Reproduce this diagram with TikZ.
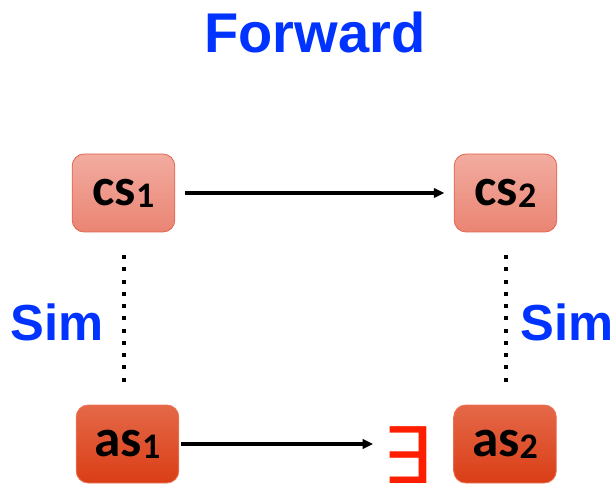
\documentclass[tikz,border=0pt]{standalone}
\usepackage{fontspec}
\setmainfont{Liberation Sans}
\newfontfamily\statefont{Carlito}
\newfontfamily\symfont{DejaVu Sans}
\usetikzlibrary{arrows.meta}

\definecolor{simblue}{RGB}{0,51,255}
\definecolor{exred}{RGB}{255,30,0}
\definecolor{cstop}{RGB}{242,172,160}
\definecolor{csbot}{RGB}{234,132,115}
\definecolor{csline}{RGB}{226,100,78}
\definecolor{astop}{RGB}{228,104,72}
\definecolor{asbot}{RGB}{218,62,22}
\definecolor{asline}{RGB}{236,120,90}

% index set a bit below the baseline
\newcommand\idx[1]{\raisebox{-1.5pt}{\fontsize{27}{27}\selectfont #1}}

\begin{document}
\begin{tikzpicture}[x=0.75pt, y=-0.75pt,
		state/.style={rounded corners=9pt, minimum width=77pt, minimum height=58.5pt,
			inner sep=0pt, line width=0.6pt,
			font=\statefont\bfseries\fontsize{40}{40}\selectfont},
		concrete/.style={state, draw=csline, top color=cstop, bottom color=csbot},
		abstract/.style={state, draw=asline, top color=astop, bottom color=asbot},
		trans/.style={line width=2.3pt, -{Triangle[length=8pt, width=7pt]}},
		sim/.style={line width=3pt, dash pattern=on 3pt off 6.2pt},
		simlabel/.style={text=simblue, font=\bfseries\fontsize{38}{38}\selectfont}]
	\useasboundingbox (0,0) rectangle (613,484);

	\node[text=simblue, font=\bfseries\fontsize{42}{42}\selectfont] (title) at (315,32) {Forward};

	\node[concrete] (cs1) at (123.5,193) {cs\idx{1}};
	\node[concrete] (cs2) at (505.5,193) {cs\idx{2}};
	\node[abstract] (as1) at (127.5,444) {as\idx{1}};
	\node[abstract] (as2) at (505,444) {as\idx{2}};

	\node[text=exred, inner sep=0pt, font=\symfont\fontsize{58.5}{58.5}\selectfont] (ex) at (407.5,455) {∃};

	\node[simlabel] (simL) at (57,322) {Sim};
	\node[simlabel] (simR) at (567,322) {Sim};

	\draw[trans, shorten <=7.5pt, shorten >=7pt] (cs1) -- (cs2);
	\draw[trans, shorten <=1pt, shorten >=7pt] (as1.east) -- (ex.west |- as1.east);

	\draw[sim, shorten <=17pt, shorten >=17pt] (cs1.south) -- (cs1.south |- as1.north);
	\draw[sim, shorten <=17pt, shorten >=17pt] (cs2.south) -- (cs2.south |- as2.north);
\end{tikzpicture}
\end{document}
